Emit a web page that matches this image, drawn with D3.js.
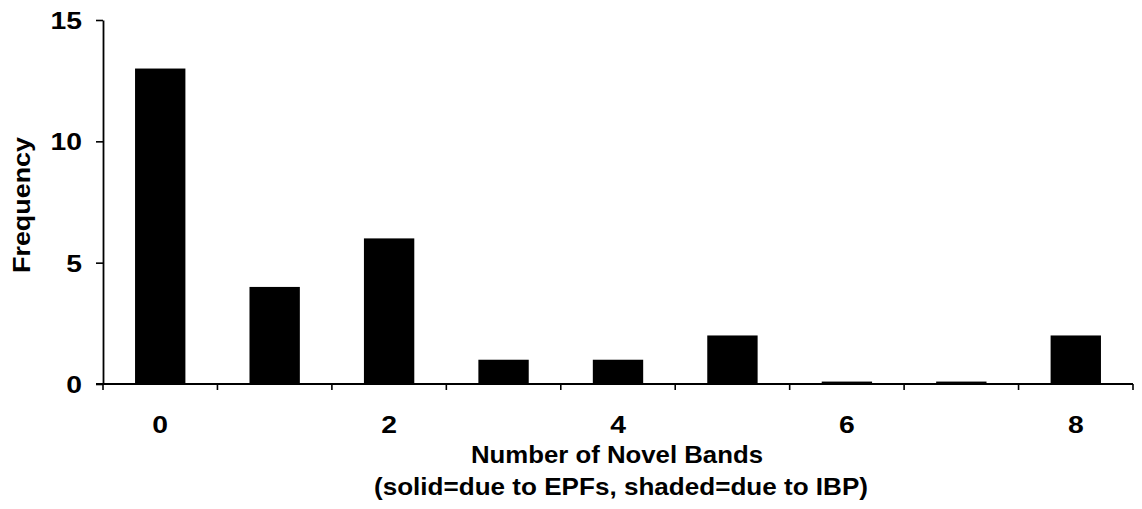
<!DOCTYPE html>
<html>
<head>
<meta charset="utf-8">
<script src="https://cdn.jsdelivr.net/npm/d3@7"></script>
<style>
  html, body { margin: 0; padding: 0; background: #fff; }
  svg text { font-family: "Liberation Sans", Arial, Helvetica, sans-serif; font-weight: bold; fill: #000; }
</style>
</head>
<body>
<svg id="chart" width="1142" height="509"></svg>
<script>
// ---- data ----
const categories = [0, 1, 2, 3, 4, 5, 6, 7, 8];
const frequency = [13, 4, 6, 1, 1, 2, 0.1, 0.1, 2];
const xTickLabels = [0, 2, 4, 6, 8];
const yTickValues = [0, 5, 10, 15];
const xTitle = "Number of Novel Bands";
const xSubtitle = "(solid=due to EPFs, shaded=due to IBP)";
const yTitle = "Frequency";

// ---- layout ----
const svg = d3.select("#chart");
const plotLeft = 103, plotRight = 1133, plotTop = 20, plotBottom = 384;

const x = d3.scaleBand().domain(categories).range([plotLeft, plotRight])
  .paddingInner(0.56).paddingOuter(0.28);
const y = d3.scaleLinear().domain([0, 15]).range([plotBottom, plotTop]);

// bars
svg.append("g").selectAll("rect").data(categories).join("rect")
  .attr("x", d => x(d))
  .attr("width", x.bandwidth())
  .attr("y", (d, i) => y(frequency[i]))
  .attr("height", (d, i) => y(0) - y(frequency[i]))
  .attr("fill", "#000");

// y axis
const yAxis = svg.append("g").attr("transform", `translate(${plotLeft},0)`)
  .call(d3.axisLeft(y).tickValues(yTickValues).tickSize(7).tickSizeOuter(0).tickPadding(14));
yAxis.select(".domain").attr("stroke", "#000").attr("stroke-width", 1.8);
yAxis.selectAll(".tick line").attr("stroke", "#000").attr("stroke-width", 1.6);
yAxis.selectAll("text").style("font-size", "24px").attr("dy", "0.36em");

// x axis line and boundary ticks
const boundaries = d3.range(categories.length + 1).map(i => plotLeft + i * x.step());
const xAxisG = svg.append("g");
xAxisG.append("line").attr("x1", plotLeft - 7).attr("x2", plotRight)
  .attr("y1", plotBottom).attr("y2", plotBottom).attr("stroke", "#000").attr("stroke-width", 1.8);
xAxisG.selectAll("line.bt").data(boundaries).join("line").attr("class", "bt")
  .attr("x1", d => d).attr("x2", d => d).attr("y1", plotBottom).attr("y2", plotBottom + 6)
  .attr("stroke", "#000").attr("stroke-width", 1.6);

// x tick labels
const xLab = svg.append("g").attr("transform", `translate(0,${plotBottom})`)
  .call(d3.axisBottom(x).tickValues(xTickLabels).tickSize(0).tickPadding(0));
xLab.select(".domain").remove();
xLab.selectAll("text").style("font-size", "24px").attr("y", 49).attr("dy", 0);

// titles
svg.append("text").attr("class", "xt").attr("x", 617).attr("y", 463)
  .attr("text-anchor", "middle").style("font-size", "24px").text(xTitle);
svg.append("text").attr("class", "xs").attr("x", 621).attr("y", 495)
  .attr("text-anchor", "middle").style("font-size", "24px").text(xSubtitle);
svg.append("text").attr("class", "yt")
  .attr("transform", "translate(30,205) rotate(-90)")
  .attr("text-anchor", "middle").style("font-size", "24px").text(yTitle);

// widen glyphs to match the reference typeface
svg.select("text.xt").attr("textLength", 292).attr("lengthAdjust", "spacingAndGlyphs");
svg.select("text.xs").attr("textLength", 494).attr("lengthAdjust", "spacingAndGlyphs");
svg.select("text.yt").attr("textLength", 136).attr("lengthAdjust", "spacingAndGlyphs");
svg.selectAll(".tick text").each(function() {
  const w = this.getComputedTextLength();
  d3.select(this).attr("textLength", w * 1.18).attr("lengthAdjust", "spacingAndGlyphs");
});
</script>
</body>
</html>
